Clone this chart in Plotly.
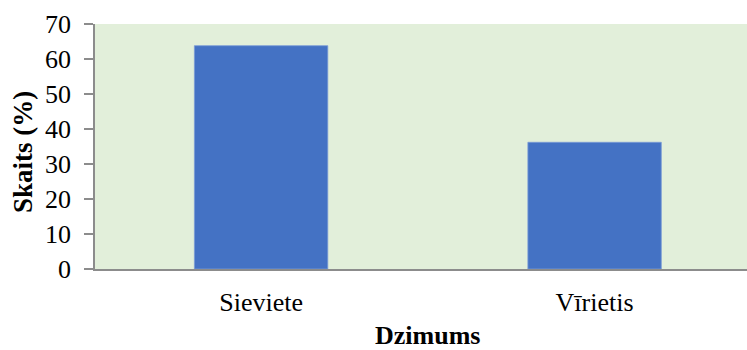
import plotly.graph_objects as go

categories = ["Sieviete", "Vīrietis"]
values = [63.8, 36.2]
y_ticks = [0, 10, 20, 30, 40, 50, 60, 70]

FONT = "Liberation Serif, Times New Roman, serif"

fig = go.Figure()
fig.add_trace(go.Bar(
    x=categories, y=values, width=0.4,
    marker=dict(color="#4472C4", line=dict(color="#7A9BD6", width=0.8)),
))

fig.update_layout(
    width=747, height=350,
    margin=dict(l=95, r=0, t=24, b=81),
    plot_bgcolor="#E2EFDA", paper_bgcolor="white",
    showlegend=False,
    font=dict(family=FONT, size=26, color="black"),
    xaxis=dict(
        type="category", range=[-0.498, 1.457],
        showline=True, linecolor="#8C8C8C", linewidth=1.5,
        ticks="", ticklabelstandoff=9, showgrid=False,
        tickfont=dict(family=FONT, size=26, color="black"),
    ),
    yaxis=dict(
        range=[0, 70], tickvals=y_ticks,
        showline=True, linecolor="#8C8C8C", linewidth=1.5,
        ticks="outside", ticklen=9, tickcolor="#8C8C8C", tickwidth=1.5,
        ticklabelstandoff=8, showgrid=False, zeroline=False,
        tickfont=dict(family=FONT, size=26, color="black"),
    ),
    annotations=[
        dict(text="<b>Dzimums</b>", xref="x", x=0.5, yref="paper", y=-(335 - 269) / 245,
             xanchor="center", yanchor="middle", showarrow=False,
             font=dict(family=FONT, size=26, color="black")),
        dict(text="<b>Skaits (%)</b>", xref="paper", x=-(95 - 23) / 652, yref="paper", y=(269 - 152) / 245,
             xanchor="center", yanchor="middle", textangle=-90, showarrow=False,
             font=dict(family=FONT, size=27, color="black")),
    ],
)

fig.write_html("out.html")
